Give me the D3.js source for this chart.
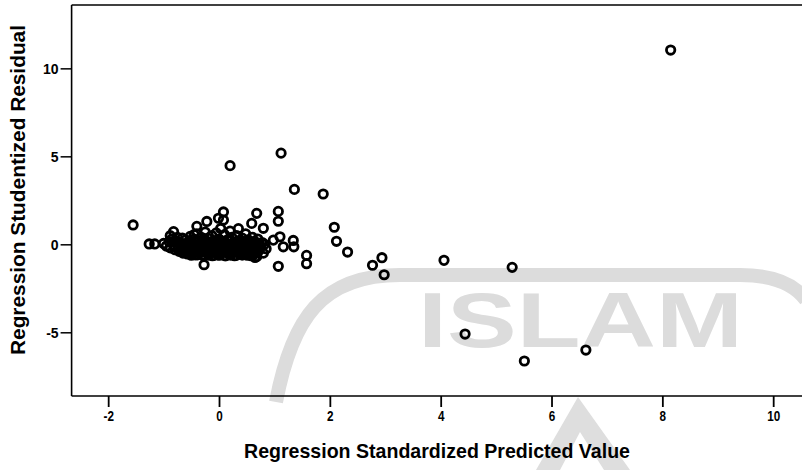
<!DOCTYPE html>
<html>
<head>
<meta charset="utf-8">
<script src="https://cdn.jsdelivr.net/npm/d3@7/dist/d3.min.js"></script>
<style>
  html, body { margin: 0; padding: 0; background: #fff; }
  svg { display: block; }
</style>
</head>
<body>
<div id="chart"></div>
<script>
// ---- data ----
const xTicks = [-2, 0, 2, 4, 6, 8, 10];
const yTicks = [10, 5, 0, -5];
const xTitle = "Regression Standardized Predicted Value";
const yTitle = "Regression Studentized Residual";

// isolated points
const outlierX = [8.15, 0.20, 1.12, 1.36, 1.88, 2.08, 2.12, 2.32, 1.58, 1.58, 2.77, 2.94, 2.98, 4.06, 5.29, 4.44, 5.51, 6.62,
  -1.55, -1.26, -1.16, -0.27, 1.07, 1.07, 1.07, 0.68, 0.59, 0.80, 0.35, 0.08, 0.08, -0.01, -0.22, -0.40, -0.82, -0.88,
  0.98, 1.10, 1.16, 1.34, 1.35, 0.65, -0.45];
const outlierY = [11.04, 4.47, 5.18, 3.12, 2.86, 0.97, 0.17, -0.44, -0.63, -1.10, -1.19, -0.76, -1.73, -0.91, -1.31, -5.10, -6.63, -6.01,
  1.10, 0.02, 0.02, -1.16, -1.25, 1.87, 1.31, 1.76, 1.19, 0.91, 0.89, 1.84, 1.38, 1.48, 1.30, 1.02, 0.72, 0.49,
  0.24, 0.43, -0.14, 0.22, -0.14, -0.75, 0.55];

// dense cluster around zero
const clusterX = [-1.00, -0.95, -0.90, -0.88, -0.85, -0.82, -0.80, -0.78, -0.75, -0.74, -0.72, -0.70, -0.68, -0.66, -0.65,
  -0.63, -0.62, -0.60, -0.58, -0.57, -0.55, -0.53, -0.52, -0.50, -0.48, -0.47, -0.45, -0.43, -0.42, -0.40, -0.38, -0.37,
  -0.35, -0.33, -0.32, -0.30, -0.28, -0.27, -0.25, -0.23, -0.22, -0.20, -0.18, -0.17, -0.15, -0.13, -0.12, -0.10, -0.08,
  -0.07, -0.05, -0.03, -0.02, 0.00, 0.02, 0.03, 0.05, 0.07, 0.08, 0.10, 0.12, 0.13, 0.15, 0.17, 0.18, 0.20, 0.22, 0.23,
  0.25, 0.27, 0.28, 0.30, 0.32, 0.33, 0.35, 0.37, 0.38, 0.40, 0.42, 0.43, 0.45, 0.47, 0.48, 0.50, 0.52, 0.53, 0.55, 0.57,
  0.58, 0.60, 0.62, 0.63, 0.65, 0.67, 0.68, 0.70, 0.72, 0.73, 0.75, 0.78, 0.80, 0.82, 0.85];
const clusterY = [0.05, -0.10, 0.15, -0.20, 0.30, -0.05, -0.30, 0.20, 0.40, -0.15, -0.40, 0.10, -0.25, 0.35, -0.50,
  0.00, -0.35, 0.25, -0.10, -0.55, 0.15, -0.30, 0.45, -0.45, 0.05, -0.20, 0.30, -0.60, -0.05, 0.60, -0.35, 0.20,
  -0.50, 0.00, 0.40, -0.25, -0.60, 0.15, 0.70, -0.40, -0.10, 0.35, -0.55, 0.05, -0.30, 0.50, -0.65, 0.20, -0.15,
  -0.45, 0.65, 0.00, -0.60, 0.30, -0.30, 0.90, -0.50, 0.10, -0.10, 0.55, -0.65, -0.35, 0.25, 0.00, -0.55, 0.75, -0.20, 0.40,
  -0.45, 0.10, -0.65, -0.05, 0.50, -0.35, 0.20, -0.55, 0.00, -0.25, 0.35, -0.60, 0.10, -0.40, 0.60, -0.10, -0.55, 0.25, -0.30, 0.05,
  -0.65, 0.40, -0.20, -0.45, 0.15, -0.05, -0.70, 0.30, -0.35, 0.05, -0.15, 0.10, -0.50, 0.00, -0.25];

// core of the cluster (heavily over-plotted)
const coreX = [-0.58, -0.47, -0.36, -0.26, -0.14, -0.04, 0.06, 0.16, 0.26, 0.36, 0.46, 0.56, 0.66,
  -0.62, -0.51, -0.41, -0.31, -0.19, -0.09, 0.01, 0.11, 0.21, 0.31, 0.41, 0.51, 0.61, 0.71,
  -0.55, -0.44, -0.34, -0.24, -0.14, -0.04, 0.06, 0.16, 0.26, 0.36, 0.46, 0.56, 0.66,
  -0.50, -0.39, -0.29, -0.19, -0.09, 0.01, 0.11, 0.21, 0.31, 0.41, 0.51, 0.61,
  -0.52, -0.41, -0.30, -0.20, -0.10, 0.00, 0.10, 0.20, 0.30, 0.40, 0.50, 0.60];
const coreY = [-0.04, -0.07, -0.03, -0.06, -0.05, -0.02, -0.06, -0.04, -0.07, -0.03, -0.05, -0.06, -0.04,
  -0.25, -0.23, -0.27, -0.24, -0.26, -0.22, -0.25, -0.28, -0.24, -0.26, -0.23, -0.27, -0.25, -0.24,
  -0.44, -0.47, -0.43, -0.46, -0.45, -0.48, -0.44, -0.46, -0.43, -0.47, -0.45, -0.44, -0.46,
  -0.62, -0.60, -0.64, -0.61, -0.63, -0.62, -0.65, -0.61, -0.63, -0.60, -0.62, -0.64,
  0.15, 0.12, 0.17, 0.14, 0.16, 0.13, 0.15, 0.18, 0.12, 0.16, 0.14, 0.13];

(function () {
// ---- chart ----
const W = 802, H = 470;
const mL = 71.6, mR = 802, mT = 5, mB = 396;
const x = d3.scaleLinear().domain([-2.66, 10.52]).range([mL, mR]);
const y = d3.scaleLinear().domain([-8.62, 13.6]).range([mB, mT]);
const fmt = d => String(d).replace("\u2212", "-");

const svg = d3.select("#chart").append("svg").attr("width", W).attr("height", H);

// scanned watermark (light grey decoration)
const wm = svg.append("g").attr("fill", "none").attr("stroke", "#dcdcdc");
wm.append("path").attr("stroke-width", 14)
  .attr("d", "M 276 402 C 292 318, 322 275, 400 275 L 740 275 C 775 275, 795 285, 806 300");
wm.append("path").attr("fill", "#dedede").attr("stroke", "none")
  .attr("d", "M 578 397 L 630 470 L 604 470 L 580 432 L 560 470 L 536 470 Z");
svg.append("text").attr("x", 418).attr("y", 347)
  .attr("font-family", "'Liberation Sans', Arial, sans-serif").attr("font-weight", "bold")
  .attr("font-size", 78).attr("fill", "#dcdcdc")
  .attr("textLength", 325).attr("lengthAdjust", "spacingAndGlyphs")
  .text("ISLAM");

// frame
const frame = svg.append("g").attr("stroke", "#000").attr("stroke-width", 1.6).attr("fill", "none");
frame.append("line").attr("x1", mL).attr("x2", mR + 2).attr("y1", mT).attr("y2", mT);
frame.append("line").attr("x1", mL).attr("x2", mL).attr("y1", mT).attr("y2", mB);

// axes
const sans = "'Liberation Sans', Arial, sans-serif";
const xAxis = svg.append("g").attr("transform", `translate(0,${mB})`)
  .call(d3.axisBottom(x).tickValues(xTicks).tickSize(11).tickPadding(3).tickFormat(fmt));
xAxis.select(".domain").attr("d", `M${mL},0H${mR + 2}`).attr("stroke-width", 1.6);
xAxis.selectAll(".tick line").attr("stroke-width", 1.8);
xAxis.selectAll("text").attr("font-family", sans).attr("font-weight", "bold")
  .attr("font-size", 15).attr("fill", "#000").attr("transform", "scale(0.78,1)");

const yAxis = svg.append("g").attr("transform", `translate(${mL},0)`)
  .call(d3.axisLeft(y).tickValues(yTicks).tickSize(11).tickPadding(2).tickFormat(fmt));
yAxis.select(".domain").remove();
yAxis.selectAll(".tick line").attr("stroke-width", 1.5);
yAxis.selectAll("text").attr("font-family", sans).attr("font-weight", "bold")
  .attr("font-size", 14).attr("fill", "#000").attr("dy", "0.36em");

// titles
svg.append("text").attr("x", 244).attr("y", 458)
  .attr("font-family", sans).attr("font-weight", "bold").attr("font-size", 21)
  .attr("textLength", 386).attr("lengthAdjust", "spacingAndGlyphs")
  .text(xTitle);
svg.append("text").attr("transform", "translate(25,355) rotate(-90)")
  .attr("font-family", sans).attr("font-weight", "bold").attr("font-size", 20)
  .attr("textLength", 330).attr("lengthAdjust", "spacingAndGlyphs")
  .text(yTitle);

// points
const pts = outlierX.map((v, i) => [v, outlierY[i]])
  .concat(clusterX.map((v, i) => [v, clusterY[i]]))
  .concat(coreX.map((v, i) => [v, coreY[i]]));
svg.append("g").selectAll("circle").data(pts).join("circle")
  .attr("cx", d => x(d[0])).attr("cy", d => y(d[1])).attr("r", 4.2)
  .attr("fill", "none").attr("stroke", "#000").attr("stroke-width", 2.8);
})();
</script>
</body>
</html>
